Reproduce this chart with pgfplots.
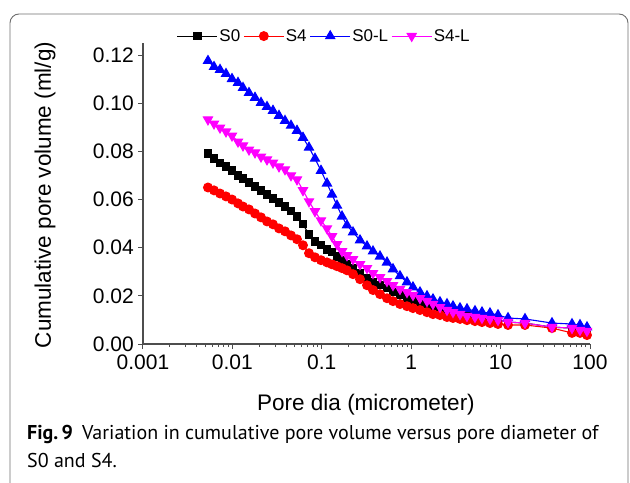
\documentclass[border=0pt]{standalone}
\usepackage{pgfplots}
\usepackage{pgfplotstable}
\pgfplotsset{compat=1.18}
\usepackage{fontspec}
\setmainfont{Liberation Sans}
\newfontfamily\capfont{PT Sans}

\definecolor{axgray}{HTML}{4D4D4D}
\definecolor{framegray}{HTML}{6E6E6E}
\definecolor{cblack}{RGB}{0,0,0}
\definecolor{cred}{RGB}{255,0,0}
\definecolor{cblue}{RGB}{0,0,255}
\definecolor{cmag}{RGB}{255,0,255}

% pore diameter (micrometer) vs cumulative pore volume (ml/g)
\pgfplotstableread{
x s0 s4 s0l s4l
0.00533 0.0791 0.0650 0.1176 0.0932
0.00623 0.0770 0.0638 0.1151 0.0915
0.00727 0.0753 0.0625 0.1139 0.0898
0.00848 0.0737 0.0613 0.1122 0.0882
0.00990 0.0720 0.0600 0.1101 0.0865
0.01155 0.0700 0.0584 0.1085 0.0840
0.01314 0.0687 0.0571 0.1064 0.0824
0.01533 0.0671 0.0559 0.1043 0.0807
0.01790 0.0654 0.0542 0.1023 0.0795
0.02089 0.0638 0.0526 0.1002 0.0778
0.02438 0.0621 0.0509 0.0985 0.0766
0.02845 0.0604 0.0497 0.0969 0.0753
0.03321 0.0588 0.0480 0.0948 0.0737
0.03876 0.0571 0.0468 0.0927 0.0725
0.04524 0.0551 0.0451 0.0907 0.0700
0.05280 0.0530 0.0435 0.0886 0.0683
0.06162 0.0497 0.0410 0.0857 0.0638
0.07191 0.0455 0.0377 0.0816 0.0592
0.08392 0.0426 0.0360 0.0770 0.0551
0.09797 0.0410 0.0348 0.0720 0.0513
0.1143 0.0393 0.0339 0.0667 0.0480
0.1300 0.0381 0.0331 0.0621 0.0447
0.1479 0.0364 0.0323 0.0575 0.0414
0.1683 0.0348 0.0315 0.0530 0.0385
0.1913 0.0331 0.0306 0.0493 0.0368
0.2234 0.0315 0.0290 0.0464 0.0352
0.2676 0.0294 0.0269 0.0431 0.0331
0.3204 0.0273 0.0244 0.0406 0.0315
0.3739 0.0257 0.0224 0.0385 0.0294
0.4477 0.0244 0.0207 0.0364 0.0277
0.5363 0.0232 0.0190 0.0339 0.0261
0.6258 0.0215 0.0178 0.0311 0.0244
0.7492 0.0203 0.0166 0.0282 0.0228
0.8974 0.0190 0.0157 0.0257 0.0215
1.047 0.0182 0.0149 0.0236 0.0203
1.254 0.0174 0.0141 0.0215 0.0190
1.502 0.0166 0.0132 0.0199 0.0178
1.753 0.0157 0.0124 0.0186 0.0166
2.099 0.0149 0.0120 0.0174 0.0153
2.514 0.0141 0.0112 0.0166 0.0141
2.935 0.0132 0.0108 0.0157 0.0132
3.515 0.0124 0.0104 0.0149 0.0124
4.209 0.0116 0.0099 0.0145 0.0116
5.171 0.0112 0.0095 0.0137 0.0112
6.193 0.0108 0.0091 0.0132 0.0108
7.608 0.0104 0.0087 0.0128 0.0104
9.352 0.0099 0.0083 0.0120 0.0099
12.10 0.0091 0.0079 0.0108 0.0091
18.75 0.0087 0.0079 0.0104 0.0087
37.57 0.0070 0.0066 0.0087 0.0070
62.90 0.0066 0.0046 0.0083 0.0066
77.29 0.0058 0.0046 0.0079 0.0058
92.55 0.0054 0.0037 0.0070 0.0054
}\poredata

\begin{document}
\begin{tikzpicture}
\useasboundingbox (0,0) rectangle (630bp,-483bp);
% figure frame
\draw[framegray, line width=0.9bp, rounded corners=9bp] (10bp,-14bp) rectangle (628bp,-505bp);

\begin{axis}[
    at={(143bp,-344bp)}, anchor=south west,
    scale only axis, width=447bp, height=301bp,
    xmode=log,
    xmin=0.001, xmax=100,
    ymin=0, ymax=0.125,
    axis lines=left,
    axis line style={draw=axgray, line width=1.1bp, -},
    tick style={draw=axgray, line width=1bp},
    tick align=outside,
    major tick length=5bp, minor tick length=3bp,
    xtick={0.001,0.01,0.1,1,10,100},
    xticklabels={0.001,0.01,0.1,1,10,100},
    minor xtick={0.002,0.003,0.004,0.005,0.006,0.007,0.008,0.009,
                 0.02,0.03,0.04,0.05,0.06,0.07,0.08,0.09,
                 0.2,0.3,0.4,0.5,0.6,0.7,0.8,0.9,
                 2,3,4,5,6,7,8,9,
                 20,30,40,50,60,70,80,90},
    ytick={0,0.02,0.04,0.06,0.08,0.10,0.12},
    yticklabels={0.00,0.02,0.04,0.06,0.08,0.10,0.12},
    minor ytick={},
    tick label style={font=\fontsize{21bp}{24bp}\selectfont},
    xticklabel style={inner sep=0pt, yshift=-6bp},
    yticklabel style={inner sep=0pt, xshift=-4bp},
    clip=false,
    legend columns=4,
    legend style={draw=none, fill=none, at={(0.405,1.023)}, anchor=center,
        font=\fontsize{17bp}{19bp}\selectfont,
        nodes={inner sep=1.5bp},
        /tikz/every even column/.append style={column sep=1.5bp}},
    legend image code/.code={\draw[mark repeat=2, mark phase=2, #1]
        plot coordinates {(0bp,0bp) (20bp,0bp) (40bp,0bp)};},
    every axis plot/.append style={line width=1.1bp},
]
\addplot[cblack, mark=square*, mark size=3.6bp] table[x=x, y=s0] {\poredata};
\addlegendentry{S0}
\addplot[cred, mark=*, mark size=4.4bp] table[x=x, y=s4] {\poredata};
\addlegendentry{S4}
\addplot[cblue, mark=triangle*, mark size=5.2bp] table[x=x, y=s0l] {\poredata};
\addlegendentry{S0-L}
\addplot[cmag, mark=triangle*, mark size=5.2bp, mark options={rotate=180}] table[x=x, y=s4l] {\poredata};
\addlegendentry{S4-L}
\end{axis}

\node[font=\fontsize{22.5bp}{26bp}\selectfont] at (366bp,-405bp) {Pore dia (micrometer)};
\node[rotate=90, font=\fontsize{22.5bp}{26bp}\selectfont] at (45bp,-195bp) {Cumulative pore volume (ml/g)};

\node[anchor=base west, inner sep=0pt, font=\capfont\fontsize{20bp}{23bp}\selectfont]
    at (27bp,-439bp) {\textbf{Fig.\,9}\hspace{0.45em}Variation in cumulative pore volume versus pore diameter of};
\node[anchor=base west, inner sep=0pt, font=\capfont\fontsize{20bp}{23bp}\selectfont]
    at (27bp,-467bp) {S0 and S4.};
\end{tikzpicture}
\end{document}
